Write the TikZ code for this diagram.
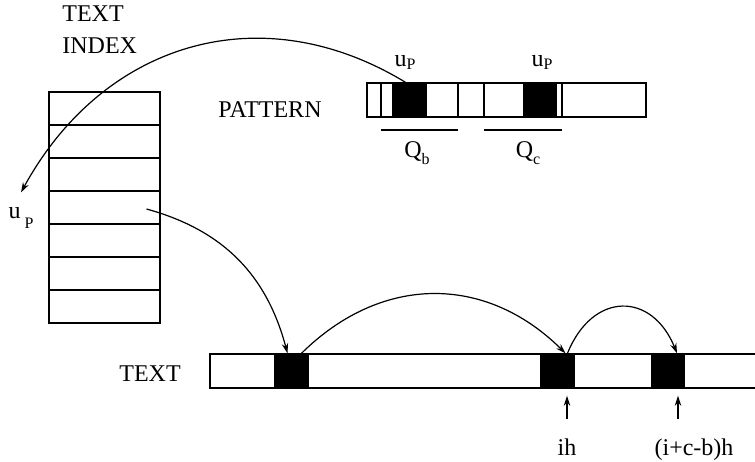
\documentclass[tikz,border=0pt]{standalone}
\usepackage{fontspec}
\setmainfont{Liberation Serif}
\usetikzlibrary{arrows.meta}
\newcommand\lowtag[2]{\raisebox{#1}{\fontsize{8}{9}\selectfont #2}}

\begin{document}
\begin{tikzpicture}[
    x=0.5pt, y=-0.5pt,
    every node/.style={font=\fontsize{12}{16}\selectfont},
    slot/.style={rectangle, draw, line width=0.7pt, inner sep=0pt,
                 minimum width=55.5pt, minimum height=16.5pt},
    hit/.style={rectangle, draw, fill=black, line width=0.7pt, inner sep=0pt,
                minimum width=16.5pt, minimum height=17pt},
    bar/.style={line width=0.7pt},
    link/.style={line width=0.6pt, -{Stealth[length=5pt, width=3.2pt]}},
]
\clip (0,0) rectangle (755,461);

\node[align=left, anchor=north west, inner sep=0pt] (idxtitle) at (62,5)
    {TEXT\\INDEX};
\node (pattxt) at (270,110) {PATTERN};
\node (txt) at (150,374) {TEXT};

\foreach \i in {1,...,7} {
    \node[slot] (row\i) at (104.5, {75.5+33*\i}) {};
}
\node (upidx) at (21,218) {u\hspace{2pt}\lowtag{-5pt}{P}};

\node[rectangle, draw, line width=0.7pt, inner sep=0pt,
      minimum width=139.5pt, minimum height=17pt] (pat) at (506.5,100) {};
\node[hit] (pb1) at (409.5,100) {};
\node[hit] (pb2) at (540,100) {};
\foreach \x in {381, 458, 484, 562} {
    \draw[bar] (\x,83) -- (\x,117);
}
\draw[bar] (381,130) -- (458,130);
\draw[bar] (484,130) -- (562,130);
\node (up1) at (405,62) {u\lowtag{-1.5pt}{P}};
\node (up2) at (542,62) {u\lowtag{-1.5pt}{P}};
\node (qb) at (417,153) {Q\lowtag{-3.5pt}{b}};
\node (qc) at (528,153) {Q\lowtag{-3.5pt}{c}};

\draw[bar] (760,354) -- (210,354) -- (210,388) -- (760,388);
\node[hit] (tb1) at (291.5,371) {};
\node[hit] (tb2) at (557.5,371) {};
\node[hit] (tb3) at (668,371) {};

\node[anchor=base] (ih) at (567,455) {ih};
\node[anchor=base] (ihc) at (694,455) {(i+c-b)h};
\coordinate (ihfoot) at (567,419);
\coordinate (ihcfoot) at (678,419);

\draw[link] ([xshift=-2pt]pb1.north) .. controls +(-145,-88) and +(82,-150)
    .. ([yshift=4pt]upidx.north);
\draw[link] ([xshift=21pt,yshift=-0.75pt]row4.center)
    .. controls +(80,22) and +(-20,-75) .. ([xshift=-2pt]tb1.north);
\draw[link] ([xshift=5pt]tb1.north) .. controls +(80,-79) and +(-80,-79)
    .. ([xshift=4pt]tb2.north);
\draw[link] ([xshift=5pt]tb2.north) .. controls +(25,-62) and +(-25,-62)
    .. ([xshift=4.5pt]tb3.north);
\draw[link, shorten >=3.5pt] (ihfoot) -- (ihfoot |- tb2.south);
\draw[link, shorten >=3.5pt] (ihcfoot) -- (ihcfoot |- tb3.south);

\end{tikzpicture}
\end{document}
